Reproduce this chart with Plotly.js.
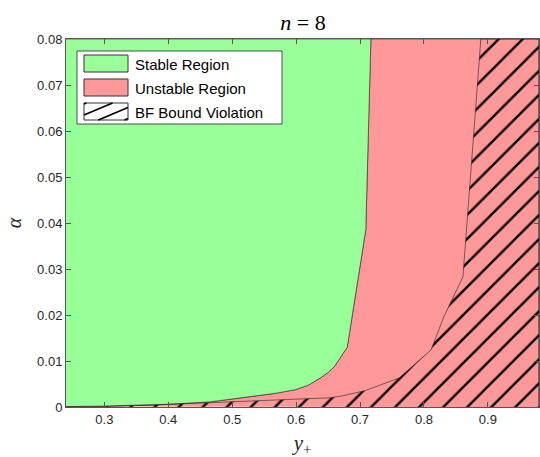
<!DOCTYPE html>
<html>
<head>
<meta charset="utf-8">
<script src="https://cdn.plot.ly/plotly-3.0.1.min.js"></script>
<style>html,body{margin:0;padding:0;background:#fff;}#chart{width:540px;height:457px;}</style>
</head>
<body>
<div id="chart"></div>
<script>
// Stability boundary (alpha as a function of y+)
const xStable = [0.24, 0.30, 0.37, 0.40, 0.464, 0.50, 0.516, 0.55, 0.569, 0.60, 0.62, 0.64, 0.65, 0.66, 0.667, 0.675, 0.680, 0.709, 0.717];
const aStable = [0.0001, 0.0002, 0.0004, 0.0006, 0.0011, 0.0017, 0.0020, 0.0026, 0.0030, 0.0038, 0.0048, 0.0065, 0.0075, 0.0088, 0.0102, 0.0118, 0.0130, 0.0385, 0.0800];
// BF bound (alpha as a function of y+)
const xBF = [0.24, 0.30, 0.37, 0.464, 0.55, 0.60, 0.652, 0.672, 0.709, 0.761, 0.811, 0.819, 0.831, 0.861, 0.889];
const aBF = [0.0000, 0.0001, 0.0004, 0.0009, 0.0013, 0.0016, 0.0020, 0.0024, 0.0036, 0.0063, 0.0124, 0.0152, 0.0196, 0.0283, 0.0800];
const xRange = [0.24, 0.98];
const yRange = [0, 0.08];
const seriesNames = ["Stable Region", "Unstable Region", "BF Bound Violation"];

const green = "#99FF99", red = "#FF9999";

// Stable polygon: left/top of the stability boundary
const gX = [xRange[0]].concat(xStable, [xRange[0]]);
const gY = [yRange[0]].concat(aStable, [yRange[1]]);
// Unstable polygon: right of the stability boundary
const rX = xStable.concat([xRange[1], xRange[1]]);
const rY = aStable.concat([yRange[1], yRange[0]]);
// BF violation polygon: right of the BF bound
const hX = xBF.concat([xRange[1], xRange[1]]);
const hY = aBF.concat([yRange[1], yRange[0]]);

const traces = [
  {x: rX, y: rY, type: "scatter", mode: "lines", fill: "toself", fillcolor: red,
   line: {color: "#222", width: 0.6}, name: seriesNames[1], showlegend: false, hoverinfo: "skip"},
  {x: gX, y: gY, type: "scatter", mode: "lines", fill: "toself", fillcolor: green,
   line: {color: "#222", width: 0.6}, name: seriesNames[0], showlegend: false, hoverinfo: "skip"},
  {x: hX, y: hY, type: "scatter", mode: "lines", fill: "toself", fillcolor: "rgba(0,0,0,0)",
   fillpattern: {shape: "/", fgcolor: "black", bgcolor: "rgba(0,0,0,0)", size: 17, solidity: 0.14},
   line: {color: "#222", width: 0.6}, name: seriesNames[2], showlegend: false, hoverinfo: "skip"}
];

// ---- Legend box (MATLAB style) built in paper coordinates ----
const M = {l: 66, r: 1, t: 39, b: 50}, W = 540, H = 457;
const pw = W - M.l - M.r, ph = H - M.t - M.b;
const px = v => (v - M.l) / pw;          // pixel x -> paper x
const py = v => (H - M.b - v) / ph;      // pixel y -> paper y

const shapes = [];
const annotations = [];
shapes.push({type: "rect", xref: "paper", yref: "paper", x0: px(77), x1: px(282), y0: py(124), y1: py(51),
             fillcolor: "#fff", line: {color: "#262626", width: 0.8}, layer: "above"});
const swFills = [green, red, "#fff"];
const rowTop = [55, 79, 103], swH = 17, swX0 = 84, swX1 = 128;
seriesNames.forEach((name, i) => {
  const t = rowTop[i], b = rowTop[i] + swH;
  shapes.push({type: "rect", xref: "paper", yref: "paper", x0: px(swX0), x1: px(swX1), y0: py(b), y1: py(t),
               fillcolor: swFills[i], line: {color: "#333", width: 1}, layer: "above"});
  annotations.push({xref: "paper", yref: "paper", x: px(133), y: py(t + swH / 2 + 0.5), xanchor: "left", yanchor: "middle",
                    text: name, showarrow: false,
                    font: {family: "Liberation Sans, Arial, sans-serif", size: 15, color: "#000"}});
});
// hatch lines inside third swatch (slope ~ 0.45 in pixel space)
(function () {
  const t = rowTop[2], b = rowTop[2] + swH, slope = 0.42, gap = 11;
  let d = "";
  for (let c = -40; c < 80; c += gap) {
    // line: y = b - slope*(x - swX0) - c  (rising to the right)
    const pts = [];
    const yAt = x => b - slope * (x - swX0) + c - 20;
    const xAt = y => swX0 + (b + c - 20 - y) / slope;
    [[swX0, yAt(swX0)], [swX1, yAt(swX1)], [xAt(t), t], [xAt(b), b]].forEach(p => {
      if (p[0] >= swX0 - 1e-6 && p[0] <= swX1 + 1e-6 && p[1] >= t - 1e-6 && p[1] <= b + 1e-6) pts.push(p);
    });
    if (pts.length >= 2) {
      pts.sort((a, q) => a[0] - q[0]);
      const p0 = pts[0], p1 = pts[pts.length - 1];
      if (Math.abs(p1[0] - p0[0]) > 1) d += `M${px(p0[0])},${py(p0[1])}L${px(p1[0])},${py(p1[1])}`;
    }
  }
  shapes.push({type: "path", xref: "paper", yref: "paper", path: d, line: {color: "#000", width: 1.6}, layer: "above"});
})();

const axisCommon = {
  showgrid: false, zeroline: false, showline: true, mirror: "ticks",
  linecolor: "#555", linewidth: 1, ticks: "inside", ticklen: 5, tickcolor: "#555",
  tickfont: {family: "Liberation Sans, Arial, sans-serif", size: 13, color: "#262626"}
};

const layout = {
  width: W, height: H,
  margin: M,
  paper_bgcolor: "#fff", plot_bgcolor: "#fff",
  showlegend: false,
  title: {text: "<i>n</i> = 8", x: 0.561, xanchor: "center", y: 0.952, yanchor: "middle", yref: "container",
          font: {family: "Liberation Serif, serif", size: 22, color: "#000"}},
  xaxis: Object.assign({}, axisCommon, {range: xRange, tick0: 0.3, dtick: 0.1,
          title: {text: "<i>y</i><sub>+</sub>", standoff: 11, font: {family: "Liberation Serif, serif", size: 21, color: "#262626"}}}),
  yaxis: Object.assign({}, axisCommon, {range: yRange, tick0: 0, dtick: 0.01,
          title: {text: "<i>α</i>", standoff: 10, font: {family: "Liberation Serif, serif", size: 20, color: "#262626"}}}),
  shapes: shapes,
  annotations: annotations
};

Plotly.newPlot("chart", traces, layout, {displayModeBar: false, staticPlot: true});
</script>
</body>
</html>
